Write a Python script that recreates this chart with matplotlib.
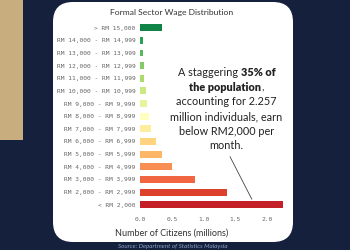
import numpy as np
import matplotlib; matplotlib.use("Agg")
import matplotlib.pyplot as plt
from matplotlib.patches import FancyBboxPatch, Rectangle

# data, bottom row first
bands = ["< RM 2,000", "RM 2,000 - RM 2,999", "RM 3,000 - RM 3,999", "RM 4,000 - RM 4,999",
         "RM 5,000 - RM 5,999", "RM 6,000 - RM 6,999", "RM 7,000 - RM 7,999", "RM 8,000 - RM 8,999",
         "RM 9,000 - RM 9,999", "RM 10,000 - RM 10,999", "RM 11,000 - RM 11,999",
         "RM 12,000 - RM 12,999", "RM 13,000 - RM 13,999", "RM 14,000 - RM 14,999", "> RM 15,000"]
citizens = [2.257, 1.36, 0.86, 0.50, 0.35, 0.24, 0.17, 0.14, 0.10, 0.09, 0.06, 0.06, 0.04, 0.04, 0.34]
xticks = [0.0, 0.5, 1.0, 1.5, 2.0]

NAVY = "#15203d"; TAN = "#c8ad7e"
W, H = 350, 250
fig = plt.figure(figsize=(W/100, H/100), dpi=100, facecolor=NAVY)

# background layer in pixel units
bg = fig.add_axes([0, 0, 1, 1]); bg.set_xlim(0, W); bg.set_ylim(H, 0); bg.axis("off")
bg.add_patch(Rectangle((0, 0), 22.7, 140, fc=TAN, ec="none"))
bg.add_patch(FancyBboxPatch((53+20, 2+20), 240-40, 240-40, boxstyle="round,pad=20",
                            fc="white", ec="none"))

# chart axes
ax = fig.add_axes([140.3/W, 1-211/H, 145.8/W, 189.6/H])
ax.patch.set_visible(False)
cols = plt.cm.RdYlGn(np.linspace(0, 1, len(bands)+2)[1:-1])
y = np.arange(len(bands))
ax.barh(y, citizens, height=0.55, color=cols)
ax.set_xlim(0, 2.3); ax.set_ylim(-0.5, len(bands)-0.5)
ax.set_yticks(y); ax.set_yticklabels(bands)
ax.set_xticks(xticks); ax.set_xticklabels([f"{v:.1f}" for v in xticks])
for s in ax.spines.values(): s.set_visible(False)
ax.tick_params(axis="both", length=0, labelsize=4.5, labelcolor="#666")
ax.tick_params(axis="y", pad=3.6); ax.tick_params(axis="x", pad=4.0)
for t in ax.get_xticklabels() + ax.get_yticklabels():
    t.set_fontfamily("DejaVu Sans Mono")

ax.annotate("", xy=(1.76, 0.43), xytext=(1.415, 3.8),
            arrowprops=dict(arrowstyle="-", lw=0.6, color="#444", shrinkA=0, shrinkB=0))

bg.text(172, 12.7, "Formal Sector Wage Distribution", ha="center", va="center",
        fontsize=6.1, color="#333", family="Lato")
bg.text(172, 233, "Number of Citizens (millions)", ha="center", va="center",
        fontsize=6.5, color="#333", family="Lato")
bg.text(173, 246.5, "Source: Department of Statistics Malaysia", ha="center", va="center",
        fontsize=4.5, color="#8da2c8", style="italic", family="Lato")

# callout text with mixed weight, one line at a time
lines = [[("A staggering ", "normal"), ("35% of", "heavy")],
         [("the population", "heavy"), (",", "normal")],
         [("accounting for 2.257", "normal")],
         [("million individuals, earn", "normal")],
         [("below RM2,000 per", "normal")],
         [("month.", "normal")]]
cx, y0, dy = 226.5, 72.7, 14.6
r = fig.canvas.get_renderer()
for i, parts in enumerate(lines):
    yy = y0 + i*dy
    txts = [bg.text(0, yy, s, ha="left", va="center", fontsize=7.8, color="#222",
                    family="Lato", fontweight=w) for s, w in parts]
    widths = [t.get_window_extent(r).width for t in txts]
    x = cx - sum(widths)/2
    for t, w in zip(txts, widths):
        t.set_x(x); x += w

fig.savefig("out.png", dpi=100, facecolor=NAVY)
